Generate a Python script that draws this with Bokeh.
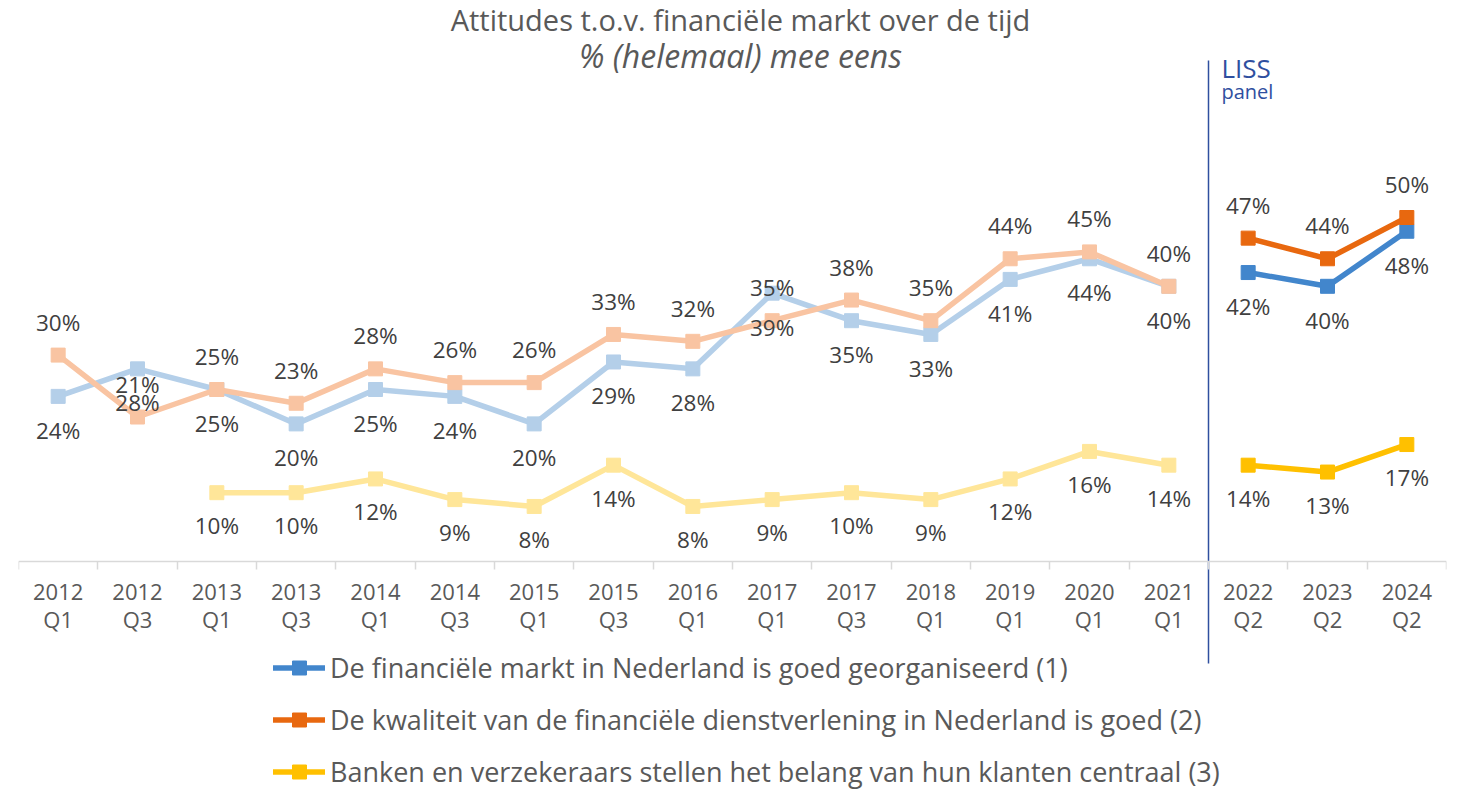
from bokeh.plotting import figure
from bokeh.models import (Range1d, LinearAxis, FixedTicker, Label, Legend, LegendItem,
                          ColumnDataSource, CustomJSTickFormatter, Grid)
from bokeh.core.properties import value
from bokeh.embed import file_html
from bokeh.resources import INLINE

# ---------------- data ----------------
categories = ["2012 Q1", "2012 Q3", "2013 Q1", "2013 Q3", "2014 Q1", "2014 Q3",
              "2015 Q1", "2015 Q3", "2016 Q1", "2017 Q1", "2017 Q3", "2018 Q1",
              "2019 Q1", "2020 Q1", "2021 Q1", "2022 Q2", "2023 Q2", "2024 Q2"]
tick_labels = [c.replace(" ", "\n") for c in categories]

fin_markt = [24, 28, 25, 20, 25, 24, 20, 29, 28, 39, 35, 33, 41, 44, 40, 42, 40, 48]
kwaliteit = [30, 21, 25, 23, 28, 26, 26, 33, 32, 35, 38, 35, 44, 45, 40, 47, 44, 50]
banken = [None, None, 10, 10, 12, 9, 8, 14, 8, 9, 10, 9, 12, 16, 14, 14, 13, 17]

series_names = [
    "De financiële markt in Nederland is goed georganiseerd (1)",
    "De kwaliteit van de financiële dienstverlening in Nederland is goed (2)",
    "Banken en verzekeraars stellen het belang van hun klanten centraal (3)",
]
liss_first = "2022 Q2"

title_text = "Attitudes t.o.v. financiële markt over de tijd"
subtitle_text = "% (helemaal) mee eens"

# ---------------- style ----------------
FONT = "Open Sans"
light_colors = ["#b4cfe9", "#f9c4a2", "#ffe699"]
dark_colors = ["#4286cc", "#e8680f", "#ffc000"]
label_color = "#404040"
text_grey = "#595959"
liss_color = "#2f4f9f"
label_offsets = [34, -33, 33]  # offsets in screen px (below, above, below)

W, H = 1458, 790
LEFT, RIGHT = 18, 12
PX_PER_PCT = 6.88
ZERO_FROM_BOTTOM = 229   # axis line at y = 561 px

n = len(categories)
liss_idx = categories.index(liss_first)
xs = [i + 0.5 for i in range(n)]

y_start = -ZERO_FROM_BOTTOM / PX_PER_PCT
y_end = (H - ZERO_FROM_BOTTOM) / PX_PER_PCT
liss_top = (561 - 60) / PX_PER_PCT
liss_bottom = -(663 - 561) / PX_PER_PCT

p = figure(width=W, height=H, x_range=Range1d(0, n), y_range=Range1d(y_start, y_end),
           output_backend="svg", toolbar_location=None,
           min_border_left=LEFT, min_border_right=RIGHT, min_border_top=0, min_border_bottom=0,
           x_axis_location=None, y_axis_location=None)
p.outline_line_color = None
p.background_fill_color = "white"
p.border_fill_color = "white"
p.center = [c for c in p.center if not isinstance(c, Grid)]

# x axis at y = 0 with ticks between categories
xaxis = LinearAxis(
    fixed_location=0,
    ticker=FixedTicker(ticks=xs, minor_ticks=list(range(n + 1))),
    formatter=CustomJSTickFormatter(args=dict(labels=tick_labels),
                                    code="const i = Math.floor(tick); return (i >= 0 && i < labels.length) ? labels[i] : '';"),
    axis_line_color="#d9d9d9", axis_line_width=1.5,
    major_tick_line_color=None, major_tick_in=0, major_tick_out=0,
    minor_tick_line_color="#d9d9d9", minor_tick_line_width=1.5, minor_tick_in=0, minor_tick_out=8,
    major_label_standoff=6,
    major_label_text_font=FONT, major_label_text_font_size="22px",
    major_label_text_color=text_grey, major_label_text_line_height=0.95,
)
p.add_layout(xaxis, "below")

series = [fin_markt, kwaliteit, banken]
nan = float("nan")

dark_renderers = []
for i, vals in enumerate(series):
    yv = [nan if v is None else v for v in vals]
    pre = ColumnDataSource(dict(x=xs[:liss_idx], y=yv[:liss_idx]))
    post = ColumnDataSource(dict(x=xs[liss_idx:], y=yv[liss_idx:]))
    p.line("x", "y", source=pre, line_color=light_colors[i], line_width=5.5,
           line_join="round", line_cap="round")
    p.scatter("x", "y", source=pre, marker="square", size=14,
              fill_color=light_colors[i], line_color=light_colors[i])
    l2 = p.line("x", "y", source=post, line_color=dark_colors[i], line_width=5.5,
                line_join="round", line_cap="round")
    s2 = p.scatter("x", "y", source=post, marker="square", size=14,
                   fill_color=dark_colors[i], line_color=dark_colors[i])
    dark_renderers.append([l2, s2])

# data labels
for i, vals in enumerate(series):
    lx = [x for x, v in zip(xs, vals) if v is not None]
    ly = [v for v in vals if v is not None]
    lt = [f"{v}%" for v in vals if v is not None]
    src = ColumnDataSource(dict(x=lx, y=ly, t=lt))
    p.text("x", "y", text="t", source=src, y_offset=label_offsets[i],
           text_align="center", text_baseline="alphabetic",
           text_font=value(FONT), text_font_size="22.5px", text_color=label_color)

# LISS separator
p.segment(x0=[liss_idx], y0=[liss_top], x1=[liss_idx], y1=[liss_bottom],
          line_color=liss_color, line_width=1.5)
p.text(x=[liss_idx], y=[liss_top], text=["LISS"], x_offset=13, y_offset=7,
       text_align="left", text_baseline="alphabetic",
       text_font=value(FONT), text_font_size="26px", text_color=liss_color)
p.text(x=[liss_idx], y=[liss_top], text=["panel"], x_offset=13, y_offset=31,
       text_align="left", text_baseline="alphabetic",
       text_font=value(FONT), text_font_size="20px", text_color=liss_color)

# titles
p.add_layout(Label(x=722, y=H - 19, x_units="screen", y_units="screen", text=title_text,
                   text_align="center", text_baseline="alphabetic", text_font=FONT,
                   text_font_size="29px", text_color=text_grey))
p.add_layout(Label(x=722, y=H - 55, x_units="screen", y_units="screen", text=subtitle_text,
                   text_align="center", text_baseline="alphabetic", text_font=FONT,
                   text_font_style="italic", text_font_size="32px", text_color=text_grey))

# legend
legend = Legend(items=[LegendItem(label=series_names[i], renderers=dark_renderers[i])
                       for i in range(3)],
                location=(255, 0), orientation="vertical",
                glyph_width=52, glyph_height=35, label_height=35, spacing=15,
                padding=0, margin=0, label_standoff=5,
                label_text_font=FONT, label_text_font_size="27px",
                label_text_color=text_grey, border_line_color=None,
                background_fill_alpha=0)
p.add_layout(legend, "center")

open("out.html", "w").write(file_html(p, INLINE))
